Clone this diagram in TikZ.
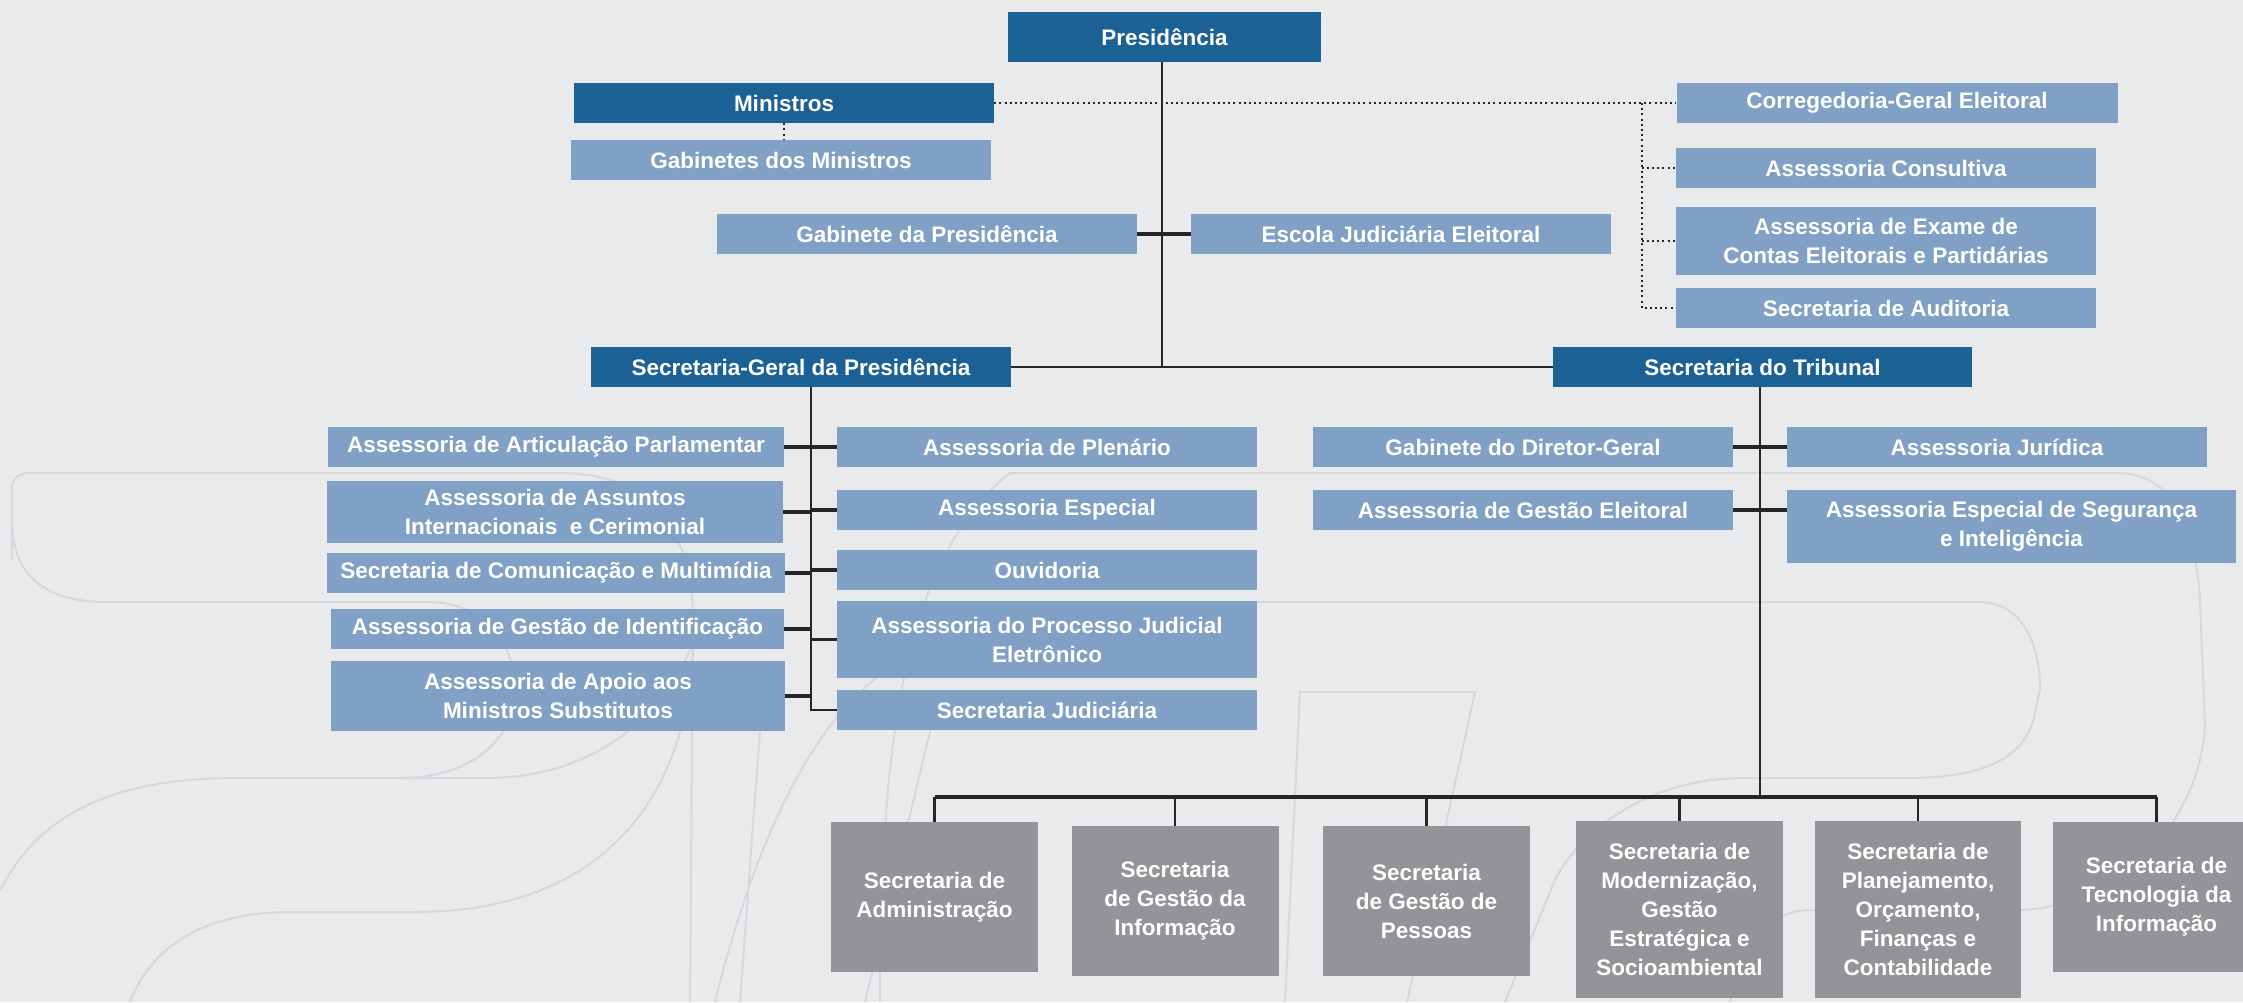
\documentclass[tikz,border=0pt]{standalone}
\usepackage{fontspec}
\setmainfont{Liberation Sans}
\definecolor{bgc}{HTML}{E9EAEC}
\definecolor{dkblue}{HTML}{1B6195}
\definecolor{ltblue}{HTML}{80A0C5}
\definecolor{grbox}{HTML}{939497}
\definecolor{wmc}{HTML}{D7D8DB}
\definecolor{lnc}{HTML}{262626}
\begin{document}
\begin{tikzpicture}[x=1pt,y=-1pt,
  box/.style={inner sep=0pt, text=white, align=center,
    font=\bfseries\fontsize{22.5}{29}\selectfont},
  dk/.style={box, fill=dkblue},
  lt/.style={box, fill=ltblue},
  gr/.style={box, fill=grbox},
  sz/.style 2 args={minimum width=#1, minimum height=#2},
  conn/.style={draw=lnc, line width=2.4},
  stub/.style={draw=lnc, line width=3.2},
  bus/.style={draw=lnc, line width=3.4},
  dotl/.style={draw=lnc, line width=2, dash pattern=on 2 off 3.2},
  wm/.style={draw=wmc, line width=2}]
\useasboundingbox (0,0) rectangle (2243,1002);
\fill[bgc] (0,0) rectangle (2243,1002);
\begin{scope}
\clip (0,0) rectangle (2243,1002);
% watermark
\draw[wm] (12,560) -- (12,490) .. controls (12,478) and (18,473) .. (30,473) -- (560,473)
  .. controls (650,473) and (693,530) .. (693,620) -- (690,1002);
\draw[wm] (693,640) .. controls (690,800) and (600,912) .. (415,912) -- (290,912)
  .. controls (200,912) and (150,950) .. (130,1002);
\draw[wm] (0,891) .. controls (40,810) and (120,778) .. (236,778) -- (486,778)
  .. controls (590,778) and (660,720) .. (690,650);
\draw[wm] (12,520) .. controls (12,580) and (50,602) .. (107,602) -- (429,602)
  .. controls (480,602) and (515,640) .. (515,690) .. controls (515,740) and (470,778) .. (400,778);
\draw[wm] (880,1002) .. controls (880,760) and (900,560) .. (1010,473) -- (2117,473)
  .. controls (2170,473) and (2195,520) .. (2200,600) -- (2205,726)
  .. controls (2200,820) and (2120,910) .. (2014,910) -- (1810,910)
  .. controls (1760,910) and (1740,960) .. (1730,1002);
\draw[wm] (1257,602) -- (1979,602) .. controls (2020,602) and (2040,640) .. (2040,690)
  -- (2036,707) .. controls (2030,760) and (1980,778) .. (1907,778) -- (1743,778)
  .. controls (1650,778) and (1580,830) .. (1555,880) -- (1505,1002);
\draw[wm] (1285,1002) -- (1300,692) -- (1475,692) -- (1407,1002);
\draw[wm] (940,690) -- (865,1002);
\draw[wm] (879,676) .. controls (820,720) and (760,820) .. (715,1002);
\draw[wm] (760,730) -- (740,1002);
\end{scope}
% nodes
\node[dk, sz={313}{50}] (pres) at (1164.5,37) {Presidência};
\node[dk, sz={420}{40}] (min) at (784,103) {Ministros};
\node[lt, sz={420}{40}] (gabmin) at (781,160) {Gabinetes dos Ministros};
\node[lt, sz={420}{40}] (gabpres) at (927,234) {Gabinete da Presidência};
\node[lt, sz={420}{40}] (escola) at (1401,234) {Escola Judiciária Eleitoral};
\node[lt, sz={441}{40}] (correg) at (1897,103) {Corregedoria-Geral Eleitoral};
\node[lt, sz={420}{40}] (consul) at (1886,168) {Assessoria Consultiva};
\node[lt, sz={420}{68}] (exame) at (1886,241) {Assessoria de Exame de\\Contas Eleitorais e Partidárias};
\node[lt, sz={420}{40}] (audit) at (1886,308) {Secretaria de Auditoria};
\node[dk, sz={420}{40}] (sg) at (801,367) {Secretaria-Geral da Presidência};
\node[dk, sz={419}{40}] (st) at (1762.5,367) {Secretaria do Tribunal};
% SG left
\node[lt, sz={456}{40}] (artic) at (556,447) {Assessoria de Articulação Parlamentar};
\node[lt, sz={456}{62}] (assunt) at (555,512) {Assessoria de Assuntos\\Internacionais~ e Cerimonial};
\node[lt, sz={458}{40}] (comun) at (556,573) {Secretaria de Comunicação e Multimídia};
\node[lt, sz={453}{40}] (ident) at (557.5,629) {Assessoria de Gestão de Identificação};
\node[lt, sz={454}{70}] (apoio) at (558,696) {Assessoria de Apoio aos\\Ministros Substitutos};
% SG right
\node[lt, sz={420}{40}] (plen) at (1047,447) {Assessoria de Plenário};
\node[lt, sz={420}{40}] (espec) at (1047,510) {Assessoria Especial};
\node[lt, sz={420}{40}] (ouvid) at (1047,570) {Ouvidoria};
\node[lt, sz={420}{77}] (proc) at (1047,639.5) {Assessoria do Processo Judicial\\Eletrônico};
\node[lt, sz={420}{40}] (judic) at (1047,710) {Secretaria Judiciária};
% ST
\node[lt, sz={420}{40}] (gabdir) at (1523,447) {Gabinete do Diretor-Geral};
\node[lt, sz={420}{40}] (jurid) at (1997,447) {Assessoria Jurídica};
\node[lt, sz={420}{40}] (gesel) at (1523,510) {Assessoria de Gestão Eleitoral};
\node[lt, sz={449}{73}] (segur) at (2011.5,526.5) {Assessoria Especial de Segurança\\e Inteligência};
% bottom
\node[gr, sz={207}{150}] (adm) at (934.5,897) {Secretaria de\\Administração};
\node[gr, sz={207}{150}] (ginf) at (1175,901) {Secretaria\\de Gestão da\\Informação};
\node[gr, sz={207}{150}] (gpes) at (1426.5,901) {Secretaria\\de Gestão de\\Pessoas};
\node[gr, sz={207}{177}] (mod) at (1679.5,909.5) {Secretaria de\\Modernização,\\Gestão\\Estratégica e\\Socioambiental};
\node[gr, sz={206}{177}] (plan) at (1918,909.5) {Secretaria de\\Planejamento,\\Orçamento,\\Finanças e\\Contabilidade};
\node[gr, sz={207}{150}] (tec) at (2156.5,897) {Secretaria de\\Tecnologia da\\Informação};
% connectors
\coordinate (pv) at (1162,367);
\draw[conn] (pres.south -| pv) -- (pv);
\draw[stub] (gabpres.east) -- (escola.west);
\draw[conn] (sg.east) -- (st.west);
\draw[dotl] (min.south) -- (min.south |- gabmin.north);
\coordinate (dv) at (1641.6,103);
\draw[dotl] (min.east) -- (correg.west);
\draw[dotl] (dv) -- (dv |- audit.west) -- (audit.west);
\draw[dotl] (dv |- consul.west) -- (consul.west);
\draw[dotl] (dv |- exame.west) -- (exame.west);
\coordinate (sgb) at (811,710);
\draw[conn] (sg.south -| sgb) -- (sgb) -- (judic.west |- sgb);
\foreach \n in {artic,assunt,comun,ident,apoio}{\draw[stub] (\n.east) -- (\n.east -| sgb);}
\foreach \n in {plen,espec,ouvid,proc}{\draw[stub] (\n.west) -- (\n.west -| sgb);}
\coordinate (stb) at (1760,797);
\draw[conn] (st.south -| stb) -- (stb);
\draw[stub] (gabdir.east) -- (jurid.west);
\draw[stub] (gesel.east) -- (segur.west |- gesel.east);
\draw[bus] (adm.north |- stb) -- (tec.north |- stb);
\foreach \n in {adm,ginf,gpes,mod,plan,tec}{\draw[conn] (\n.north |- stb) -- (\n.north);}
\end{tikzpicture}
\end{document}
